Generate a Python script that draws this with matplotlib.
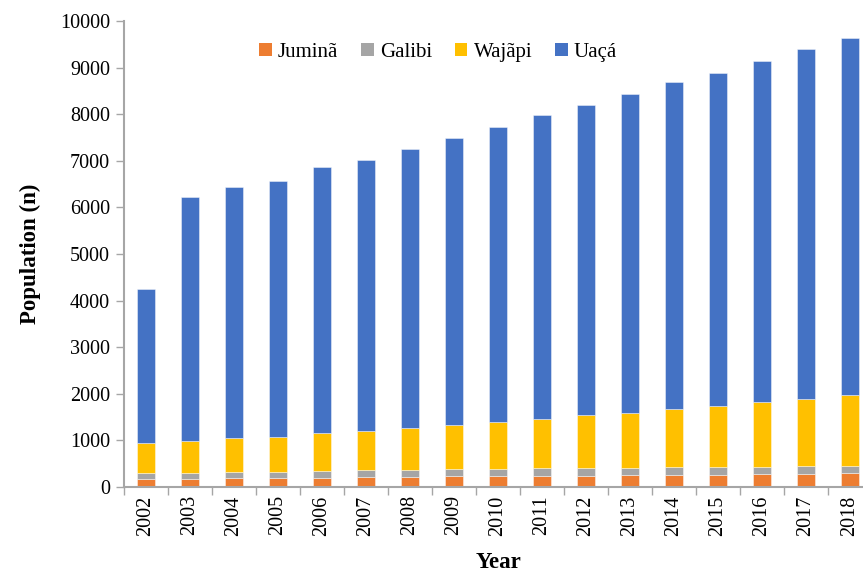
import numpy as np
import matplotlib as mpl
mpl.use('agg')
import matplotlib.pyplot as plt
from matplotlib.patches import Patch

years = [str(y) for y in range(2002, 2019)]
jumina = [164, 179, 186, 186, 200, 207, 221, 230, 238, 246, 246, 252, 264, 264, 279, 286, 292]
galibi = [129, 128, 143, 143, 150, 150, 150, 150, 157, 157, 157, 157, 157, 165, 150, 157, 162]
wajapi_top = [945, 995, 1052, 1080, 1152, 1212, 1260, 1320, 1390, 1460, 1545, 1595, 1684, 1748, 1816, 1890, 1982]
totals = [4255, 6228, 6445, 6575, 6860, 7015, 7248, 7485, 7718, 7976, 8205, 8428, 8685, 8892, 9136, 9390, 9628]

jumina = np.array(jumina)
galibi = np.array(galibi)
wajapi = np.array(wajapi_top) - jumina - galibi
uaca = np.array(totals) - np.array(wajapi_top)

plt.rcParams['font.family'] = ['Liberation Serif']

fig = plt.figure(figsize=(8.63, 5.74), dpi=100)
# axes runs slightly past the right edge, like the cropped original
ax = fig.add_axes([124 / 863, 1 - 487 / 574, 748 / 863, 466 / 574])

x = np.arange(len(years))
w = 0.4
colors = ['#ED7D31', '#A5A5A5', '#FFC000', '#4472C4']
names = ['Juminã', 'Galibi', 'Wajãpi', 'Uaçá']
bottom = np.zeros(len(years))
for vals, c in zip([jumina, galibi, wajapi, uaca], colors):
    ax.bar(x, vals, w, bottom=bottom, color=c, edgecolor=(1, 1, 1, 0.5), linewidth=0.6)
    bottom = bottom + vals

ax.set_xlim(-0.5, len(years) - 0.5)
ax.set_ylim(0, 10000)
ax.set_yticks(range(0, 10001, 1000))

ax.set_xticks(x)
ax.set_xticklabels(years, rotation=90, fontsize=14.5)
ax.set_xticks(np.arange(-0.5, len(years), 1), minor=True)
ax.tick_params(axis='x', which='major', length=0, pad=6)
ax.tick_params(axis='x', which='minor', length=6, color='#A6A6A6', width=1)
ax.tick_params(axis='y', length=6, color='#A6A6A6', width=1, labelsize=14.5, pad=4)

for s in ['top', 'right']:
    ax.spines[s].set_visible(False)
for s in ['left', 'bottom']:
    ax.spines[s].set_color('#A6A6A6')
    ax.spines[s].set_linewidth(1.5)

ax.set_ylabel('Population (n)', fontsize=16.5, fontweight='bold', labelpad=14)
ax.set_xlabel('Year', fontsize=16.5, fontweight='bold', labelpad=12)

handles = [Patch(facecolor=c, label=n) for c, n in zip(colors, names)]
ax.legend(handles=handles, loc='center', bbox_to_anchor=(0.42, 0.932),
          ncol=4, frameon=False, fontsize=15, handlelength=0.6, handleheight=0.6,
          handletextpad=0.3, columnspacing=1.1)

fig.savefig('out.png', dpi=100)
